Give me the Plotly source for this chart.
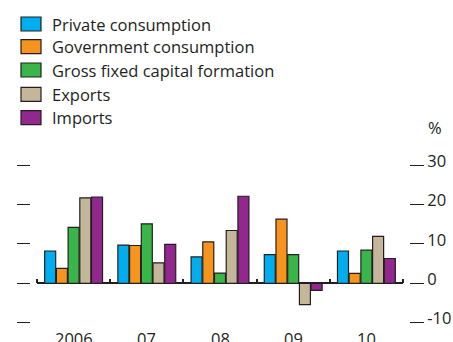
import plotly.graph_objects as go

categories = ["2006", "07", "08", "09", "10"]
series_names = ["Private consumption", "Government consumption",
                "Gross fixed capital formation", "Exports", "Imports"]
series_colors = ["#00AEEF", "#F7941D", "#39B54A", "#C4B69A", "#92278F"]
private_consumption = [8.2, 9.7, 6.7, 7.3, 8.2]
government_consumption = [3.8, 9.6, 10.5, 16.3, 2.5]
gross_fixed_capital = [14.2, 15.1, 2.6, 7.3, 8.4]
exports = [21.7, 5.2, 13.4, -5.4, 11.9]
imports = [21.9, 9.9, 22.1, -1.8, 6.3]
series_values = [private_consumption, government_consumption,
                 gross_fixed_capital, exports, imports]
tick_values = [-10, 0, 10, 20, 30]
tick_labels = ["-10", "0", "10", "20", "30"]

W, H = 453, 342
TXT = "#231f20"
FONT = "Open Sans"
FS = 16.5

def px(x):
    return x / W

def py(y):
    return 1 - y / H

y_lo, y_hi = -12, 32
zero_px, ppu = 283.3, 3.94
dom = [py(zero_px - ppu * y_lo), py(zero_px - ppu * y_hi)]

x_idx = list(range(len(categories)))

fig = go.Figure()
for name, color, vals in zip(series_names, series_colors, series_values):
    fig.add_trace(go.Bar(
        x=x_idx, y=vals, name=name,
        marker=dict(color=color, line=dict(color=TXT, width=1.2)),
        showlegend=False, hoverinfo="skip",
    ))
fig.add_trace(go.Scatter(x=[None], y=[None], yaxis="y2", mode="none",
                         showlegend=False, hoverinfo="skip"))

fig.update_layout(
    template="none",
    width=W, height=H, autosize=False,
    margin=dict(l=0, r=0, t=0, b=0, pad=0),
    paper_bgcolor="white", plot_bgcolor="white",
    barmode="group", bargap=0.2, bargroupgap=0.06,
    font=dict(family=FONT, size=FS, color=TXT),
    xaxis=dict(
        domain=[px(37), px(403)], range=[-0.5, 4.5],
        showgrid=False, zeroline=False, showline=False,
        showticklabels=False, ticks="",
        anchor="free", position=py(zero_px),
        minor=dict(tickmode="linear", tick0=-0.5, dtick=1, ticks="inside",
                   ticklen=4, tickwidth=1.5, tickcolor=TXT, showgrid=False),
    ),
    yaxis=dict(
        domain=dom, range=[y_lo, y_hi], side="right",
        anchor="free", position=px(409),
        tickmode="array", tickvals=tick_values, ticktext=tick_labels,
        ticks="outside", ticklen=14, tickwidth=1.3, tickcolor=TXT,
        showgrid=False, showline=False,
        zeroline=True, zerolinecolor=TXT, zerolinewidth=2.2,
        tickfont=dict(family=FONT, size=FS, color=TXT),
        ticklabelshift=-4,
    ),
    yaxis2=dict(
        domain=dom, range=[y_lo, y_hi], side="left", overlaying="y",
        anchor="free", position=px(30),
        tickmode="array", tickvals=tick_values,
        ticks="outside", ticklen=13, tickwidth=1.3, tickcolor=TXT,
        showticklabels=False, showgrid=False, showline=False, zeroline=False,
    ),
)

shapes = []
annotations = []
row_y = [24, 46.7, 70, 94.3, 117.7]
for name, color, yc in zip(series_names, series_colors, row_y):
    shapes.append(dict(type="rect", xref="paper", yref="paper",
                       x0=px(21), x1=px(41), y0=py(yc + 7), y1=py(yc - 7),
                       fillcolor=color, line=dict(color=TXT, width=1.2)))
    annotations.append(dict(text=name, xref="paper", yref="paper",
                            x=px(50), y=py(yc), xanchor="left", yanchor="middle",
                            showarrow=False, font=dict(size=FS, color=TXT)))
for i, c in enumerate(categories):
    annotations.append(dict(text=c, xref="x", yref="paper", x=i, y=py(338),
                            xanchor="center", yanchor="middle", showarrow=False,
                            font=dict(size=FS, color=TXT)))
annotations.append(dict(text="%", xref="paper", yref="paper", x=px(435), y=py(127),
                        xanchor="center", yanchor="middle", showarrow=False,
                        font=dict(size=FS, color=TXT)))
fig.update_layout(shapes=shapes, annotations=annotations)

fig.write_html("out.html", config={"displayModeBar": False},
               post_script="document.body.style.margin='0px';document.body.style.overflow='hidden';")
